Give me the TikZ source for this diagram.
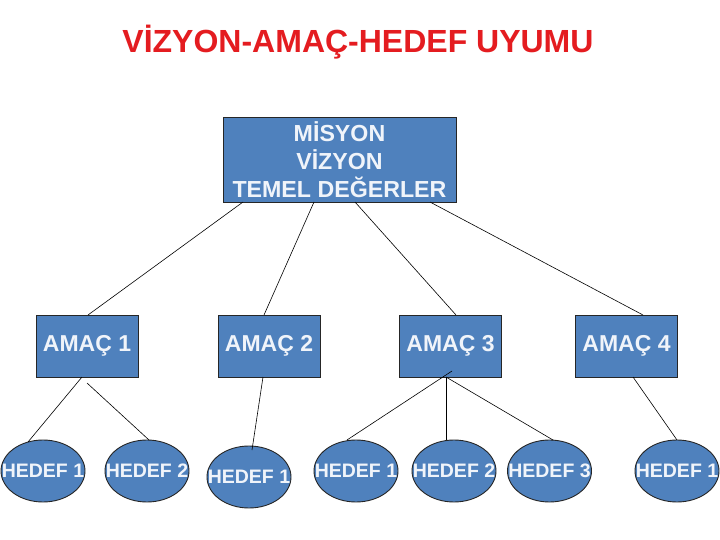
\documentclass[tikz,border=0pt]{standalone}
\usepackage{fontspec}
\setmainfont{Liberation Sans}
\usetikzlibrary{shapes.geometric}
\definecolor{boxblue}{RGB}{79,129,189}
\definecolor{txtwhite}{RGB}{240,244,250}
\definecolor{titlered}{RGB}{228,28,32}
\tikzset{
  goalbox/.style={draw=black!85, line width=0.9pt, fill=boxblue, text=txtwhite,
    minimum width=102pt, minimum height=62pt, inner sep=0pt,
    font=\bfseries\fontsize{23}{27}\selectfont},
  targetell/.style={ellipse, draw=black!85, line width=0.9pt, fill=boxblue,
    minimum width=84pt, minimum height=62pt, inner sep=0pt,
    label={[text=txtwhite, font=\bfseries\fontsize{19.5}{24}\selectfont, inner sep=0pt]center:#1}},
  link/.style={draw=black, line width=0.6pt}
}
\begin{document}
\begin{tikzpicture}[x=1pt,y=-1pt]
\useasboundingbox (0,0) rectangle (720,540);
\fill[white] (0,0) rectangle (720,540);

\node[text=titlered, font=\bfseries\fontsize{32}{38}\selectfont] (title) at (358,42) {VİZYON-AMAÇ-HEDEF UYUMU};

\node[draw=black!85, line width=0.9pt, fill=boxblue, text=txtwhite, minimum width=233pt,
  minimum height=85pt, inner sep=0pt, align=center,
  font=\bfseries\fontsize{23.2}{28}\selectfont] (m) at (339.5,159.5) {MİSYON\\VİZYON\\TEMEL DEĞERLER};

\node[goalbox] (a1) at (87,346) {AMAÇ 1};
\node[goalbox] (a2) at (269,346) {AMAÇ 2};
\node[goalbox] (a3) at (450.5,346) {AMAÇ 3};
\node[goalbox] (a4) at (626.5,346) {AMAÇ 4};

\node[targetell={HEDEF 1}] (h11) at (43,471) {};
\node[targetell={HEDEF 2}] (h12) at (147,471) {};
\node[targetell={HEDEF 1}] (h21) at (249,477) {};
\node[targetell={HEDEF 1}] (h31) at (356,471) {};
\node[targetell={HEDEF 2}] (h32) at (454,471) {};
\node[targetell={HEDEF 3}] (h33) at (549.5,471) {};
\node[targetell={HEDEF 1}] (h41) at (677,471) {};

% mission box to goals
\draw[link] ([shift={(-96.5,42.5)}]m.center) -- ([shift={(1,-31)}]a1.center);
\draw[link] ([shift={(-25.5,42.5)}]m.center) -- ([shift={(-5,-31)}]a2.center);
\draw[link] ([shift={(15.5,42.5)}]m.center) -- ([shift={(5.5,-31)}]a3.center);
\draw[link] ([shift={(90.5,42.5)}]m.center) -- ([shift={(16.5,-31)}]a4.center);

% goals to targets
\draw[link] ([shift={(-5,31)}]a1.center) -- ([shift={(-15,-29)}]h11.center);
\draw[link] ([shift={(0,37)}]a1.center) -- ([shift={(2,-31)}]h12.center);
\draw[link] ([shift={(-6,31)}]a2.center) -- ([shift={(3,-27)}]h21.center);
\draw[link] ([shift={(1.5,25)}]a3.center) -- ([shift={(-9,-31)}]h31.center);
\draw[link] ([shift={(-4.5,31)}]a3.center) -- ([shift={(-8,-31)}]h32.center);
\draw[link] ([shift={(-4.5,31)}]a3.center) -- ([shift={(3.5,-31)}]h33.center);
\draw[link] ([shift={(6.5,31)}]a4.center) -- ([shift={(0,-31)}]h41.center);
\end{tikzpicture}
\end{document}
